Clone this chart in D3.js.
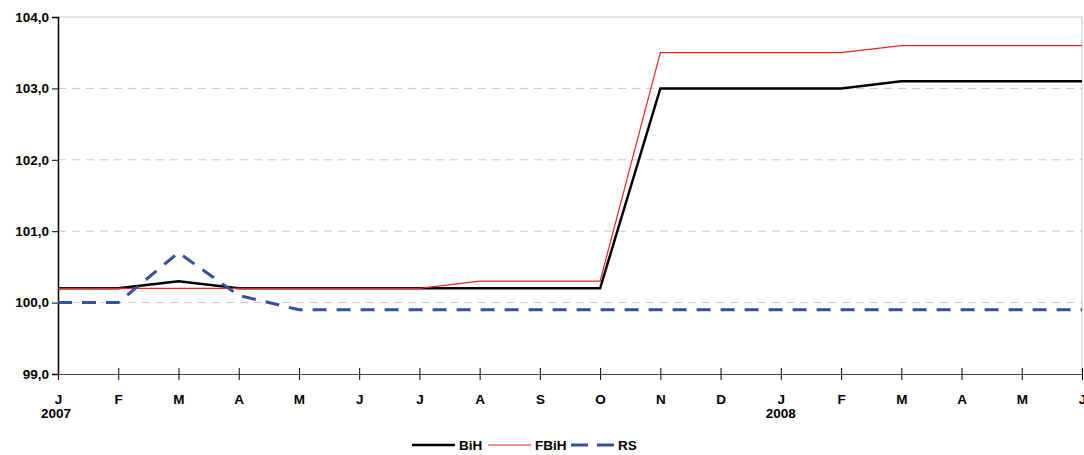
<!DOCTYPE html>
<html><head><meta charset="utf-8">
<script src="https://cdn.jsdelivr.net/npm/d3@7"></script>
<style>body{margin:0;background:#fff}svg{display:block;font-family:"Liberation Sans",Arial,sans-serif;font-weight:bold}</style>
</head><body><svg id="c" width="1084" height="455"></svg>
<script>
const months = ["J","F","M","A","M","J","J","A","S","O","N","D","J","F","M","A","M","J"];
const years = [{i:0,label:"2007"},{i:12,label:"2008"}];
const yTicks = [99,100,101,102,103,104];
const bih  = [100.2,100.2,100.3,100.2,100.2,100.2,100.2,100.2,100.2,100.2,103.0,103.0,103.0,103.0,103.1,103.1,103.1,103.1];
const fbih = [100.2,100.2,100.2,100.2,100.2,100.2,100.2,100.3,100.3,100.3,103.5,103.5,103.5,103.5,103.6,103.6,103.6,103.6];
const rs   = [100.0,100.0,100.7,100.1,99.9,99.9,99.9,99.9,99.9,99.9,99.9,99.9,99.9,99.9,99.9,99.9,99.9,99.9];
const series = [
  {name:"BiH", values:bih, color:"#000", width:2.5, dash:null},
  {name:"FBiH", values:fbih, color:"#ee2222", width:1.2, dash:null},
  {name:"RS", values:rs, color:"#3550a0", width:3, dash:"14,10"}
];
const svg = d3.select("#c");
const L=58,R=1082,T=17,B=374;
const FS=13.5;
const x = d3.scaleLinear().domain([0,months.length-1]).range([L,R]);
const y = d3.scaleLinear().domain([99,104]).range([B,T]);
const fmt = v => d3.format(".1f")(v).replace(".",",");
// gridlines
svg.append("g").selectAll("line").data(yTicks.filter(v=>v>99 && v<104)).join("line")
  .attr("x1",L).attr("x2",R).attr("y1",d=>y(d)).attr("y2",d=>y(d))
  .attr("stroke","#c8c8c8").attr("stroke-width",1).attr("stroke-dasharray","8,6");
svg.append("line").attr("x1",L).attr("x2",R).attr("y1",y(104)).attr("y2",y(104)).attr("stroke","#c8c8c8");
svg.append("line").attr("x1",R).attr("x2",R).attr("y1",y(104)).attr("y2",y(99)).attr("stroke","#c8c8c8");
// y axis
const ya = svg.append("g").attr("transform",`translate(${L},0)`)
  .call(d3.axisLeft(y).tickValues(yTicks).tickFormat(fmt).tickSize(6).tickPadding(3));
ya.select(".domain").attr("stroke","#000").attr("stroke-width",1.5);
ya.selectAll(".tick line").attr("stroke","#000");
ya.selectAll("text").attr("font-size",FS).attr("font-weight","bold").attr("fill","#000").attr("font-family","Liberation Sans, Arial, sans-serif");
// x axis
const xa = svg.append("g").attr("transform",`translate(0,${B})`)
  .call(d3.axisBottom(x).tickValues(d3.range(months.length)).tickFormat(i=>months[i]).tickSizeOuter(0).tickSize(6).tickPadding(14));
xa.select(".domain").attr("stroke","#444").attr("stroke-width",1.2);
xa.selectAll(".tick line").attr("stroke","#000").attr("y1",-6).attr("y2",6);
xa.selectAll("text").attr("font-size",FS).attr("font-weight","bold").attr("fill","#000").attr("font-family","Liberation Sans, Arial, sans-serif");
svg.append("g").selectAll("text").data(years).join("text")
  .attr("x",d=>x(d.i)).attr("y",B+44).attr("text-anchor",d=>d.i===0?"start":"middle")
  .attr("dx",d=>d.i===0?-17:0)
  .attr("font-size",FS).attr("fill","#000").text(d=>d.label);
// lines
const line = d3.line().x((d,i)=>x(i)).y(d=>y(d));
svg.append("g").selectAll("path").data(series).join("path")
  .attr("d",d=>line(d.values)).attr("fill","none")
  .attr("stroke",d=>d.color).attr("stroke-width",d=>d.width)
  .attr("stroke-dasharray",d=>d.dash);
// legend
const lg = [{s:series[0],x1:412,x2:455,tx:459,dash:null},{s:series[1],x1:488,x2:531,tx:535,dash:null},{s:series[2],x1:571,x2:614,tx:618,dash:"17,9"}];
const ly=445;
const g = svg.append("g");
lg.forEach(o=>{
  g.append("line").attr("x1",o.x1).attr("x2",o.x2).attr("y1",ly).attr("y2",ly)
   .attr("stroke",o.s.color).attr("stroke-width",o.s.width).attr("stroke-dasharray",o.dash);
  g.append("text").attr("x",o.tx).attr("y",ly+5).attr("font-size",FS).attr("fill","#000").text(o.s.name);
});
</script></body></html>
